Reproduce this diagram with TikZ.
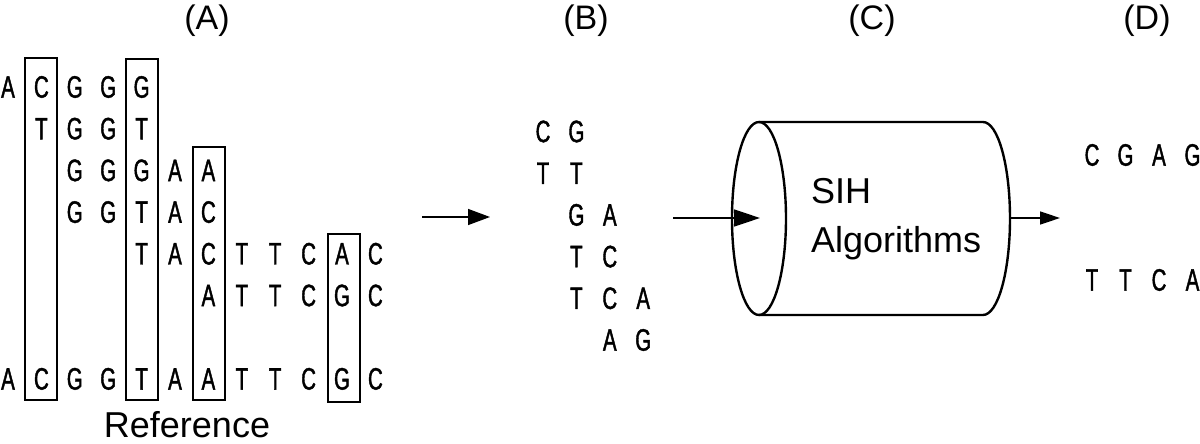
\documentclass[tikz,border=0pt]{standalone}
\usepackage{fontspec}
\setmainfont{Liberation Sans}
\newfontfamily\basefont[FakeStretch=0.66,FakeBold=1.3]{Liberation Sans}
\usetikzlibrary{arrows.meta}
\begin{document}
\begin{tikzpicture}[x=1pt,y=1pt,
  nuc/.style={font=\basefont\fontsize{31}{31}\selectfont, inner sep=0pt},
  headlbl/.style={font=\fontsize{34}{34}\selectfont, inner sep=0pt},
  bigtxt/.style={font=\fontsize{36}{36}\selectfont, inner sep=0pt},
  colbox/.style={draw, line width=2pt, minimum width=32pt, inner sep=0pt},
  thinbox/.style={draw, line width=1.4pt, minimum width=32pt, inner sep=0pt},
  flow/.style={line width=1.5pt},
  cyl/.style={line width=2.4pt}
]
\useasboundingbox (0,0) rectangle (1200,-444);

% headers
\node[headlbl] (hA) at (207,-21) {(A)};
\node[headlbl] (hB) at (586,-21) {(B)};
\node[headlbl] (hC) at (872,-21) {(C)};
\node[headlbl] (hD) at (1147,-21) {(D)};

% column boxes in (A)
\node[colbox, minimum height=342pt] (box1) at (41.4,-229) {};
\node[colbox, minimum height=341pt] (box2) at (141.6,-229.5) {};
\node[colbox, minimum height=253pt] (box3) at (209.4,-273.5) {};
\node[thinbox, minimum height=168pt] (box4) at (344,-318) {};

% reads and reference in (A)
\foreach \r/\c/\t in {
  1/1/A,1/2/C,1/3/G,1/4/G,1/5/G,
  2/2/T,2/3/G,2/4/G,2/5/T,
  3/3/G,3/4/G,3/5/G,3/6/A,3/7/A,
  4/3/G,4/4/G,4/5/T,4/6/A,4/7/C,
  5/5/T,5/6/A,5/7/C,5/8/T,5/9/T,5/10/C,5/11/A,5/12/C,
  6/7/A,6/8/T,6/9/T,6/10/C,6/11/G,6/12/C,
  8/1/A,8/2/C,8/3/G,8/4/G,8/5/T,8/6/A,8/7/A,8/8/T,8/9/T,8/10/C,8/11/G,8/12/C}
  \node[nuc] (a\r-\c) at ({8+33.4*(\c-1)},{-87-41.7*(\r-1)}) {\t};

\node[bigtxt, anchor=base] (ref) at (187,-437) {Reference};

% (B)
\foreach \r/\c/\t in {
  1/1/C,1/2/G,
  2/1/T,2/2/T,
  3/2/G,3/3/A,
  4/2/T,4/3/C,
  5/2/T,5/3/C,5/4/A,
  6/3/A,6/4/G}
  \node[nuc] (b\r-\c) at ({543+33.4*(\c-1)},{-131.5-41.7*(\r-1)}) {\t};

% (C) cylinder
\draw[cyl] (759,-218.5) ellipse [x radius=27, y radius=96.5];
\draw[cyl] (759,-122) -- (983,-122)
  arc[start angle=90, end angle=-90, x radius=27, y radius=96.5]
  -- (759,-315);
\node[bigtxt, anchor=base west] (sih) at (811,-203) {SIH};
\node[bigtxt, anchor=base west] (alg) at (811,-252) {Algorithms};

% (D)
\foreach \r/\c/\t in {1/1/C,1/2/G,1/3/A,1/4/G,2/1/T,2/2/T,2/3/C,2/4/A}
  \node[nuc] (d\r-\c) at ({1092+33.5*(\c-1)},{-155-125*(\r-1)}) {\t};

% arrows
\coordinate (ar1s) at (422,-217);
\coordinate (ar1e) at (490,-217);
\coordinate (ar2s) at (673,-218);
\coordinate (cylin) at (760,-218);
\coordinate (cylout) at (1010,-218);
\coordinate (ar3e) at (1060,-218);
\draw[flow, -{Triangle[length=22pt,width=16pt]}] (ar1s) -- (ar1e);
\draw[flow, -{Triangle[length=26pt,width=17pt]}] (ar2s) -- (cylin);
\draw[flow, -{Triangle[length=20pt,width=13pt]}] (cylout) -- (ar3e);
\end{tikzpicture}
\end{document}
